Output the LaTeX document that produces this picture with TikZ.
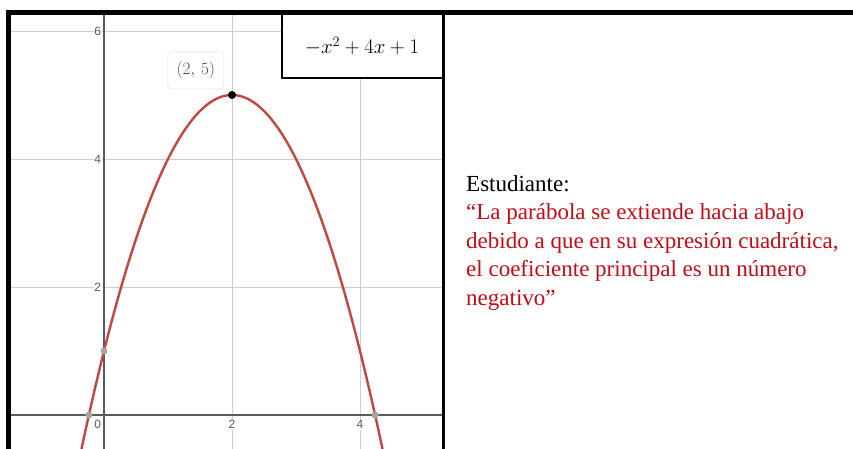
\documentclass[tikz,border=0pt]{standalone}
\usepackage{fontspec}
\setmainfont{Liberation Serif}
\newfontfamily\axisfont{Liberation Sans}
\usepackage{xcolor}
\usetikzlibrary{positioning}
\definecolor{curvered}{RGB}{199,68,64}
\definecolor{quotered}{RGB}{200,10,20}
\definecolor{gridgray}{RGB}{205,205,205}
\definecolor{axisgray}{RGB}{90,90,90}
\definecolor{ptgray}{RGB}{165,165,165}
\tikzset{
  frame/.style={black, line width=4.5pt},
  gridline/.style={gridgray, line width=0.9pt},
  axisline/.style={axisgray, line width=1.2pt},
  ticklabel/.style={font=\axisfont\fontsize{12}{12}\selectfont, text=black!65,
    fill=white, inner sep=0.8pt},
  curve/.style={curvered, line width=2.4pt},
  dotpt/.style={circle, fill=ptgray, inner sep=0pt, minimum size=7pt},
  vertex/.style={circle, fill=black, inner sep=0pt, minimum size=8pt},
  callout/.style={rectangle, rounded corners=3pt, draw=black!12, fill=white,
    minimum width=56pt, minimum height=37pt, font=\fontsize{17}{17}\selectfont, text=black!70},
  formula/.style={rectangle, draw=black, line width=2pt, fill=white,
    minimum width=161pt, minimum height=64pt, font=\fontsize{20.5}{24}\selectfont},
  said/.style={align=left, inner sep=0pt, font=\fontsize{23}{28.5}\selectfont},
}

\begin{document}
\begin{tikzpicture}[x=1pt, y=-1pt]
  \useasboundingbox (0,0) rectangle (853,449);
  % ── graph window (pixel frame, y downwards) ───────────────────────
  \begin{scope}
    \clip (10,15) rectangle (442,449);
    \begin{scope}[shift={(104,415)}, x=64pt, y=64pt]
      % grid every 2 units
      \foreach \gx in {2,4} \draw[gridline] (\gx,-0.6) -- (\gx,6.4);
      \foreach \gy in {2,4,6} \draw[gridline] (-1.6,\gy) -- (5.4,\gy);
      \draw[axisline] (-1.6,0) -- (5.4,0);
      \draw[axisline] (0,-0.6) -- (0,6.4);
      % tick labels
      \foreach \gy in {2,4,6}
        \node[ticklabel, left=2pt of {(0,\gy)}] (ly\gy) {\gy};
      \node[ticklabel, anchor=north east] (lx0) at (-0.03,-0.07) {0};
      \foreach \gx in {2,4}
        \node[ticklabel, anchor=north] (lx\gx) at (\gx,-0.07) {\gx};
      % the parabola -x^2+4x+1
      \draw[curve] plot[domain=-0.7:4.7, samples=120] (\x, {-\x*\x+4*\x+1});
      % marked points
      \node[dotpt] (rootl) at ({2-sqrt(5)},0) {};
      \node[dotpt] (rootr) at ({2+sqrt(5)},0) {};
      \node[dotpt] (yint) at (0,1) {};
      \node[vertex] (vtx) at (2,5) {};
      \node[callout, above left=3pt and 5pt of vtx] (vlabel) {$(2,\,5)$};
    \end{scope}
  \end{scope}
  % ── expression box and frame ──────────────────────────────────────
  \node[formula, anchor=north east] (expr) at (443.5,13) {$-x^2+4x+1$};
  \draw[frame] (6.5,12.5) -- (853,12.5);
  \draw[frame] (8.7,10.5) -- (8.7,449);
  \draw[frame, line width=2.6pt] (443.5,12.5) -- (443.5,449);
  % ── student's statement (base = last line) ────────────────────────
  \node[said, anchor=base west] (claim) at (466,305)
    {Estudiante:\\
     \textcolor{quotered}{“La parábola se extiende hacia abajo}\\
     \textcolor{quotered}{debido a que en su expresión cuadrática,}\\
     \textcolor{quotered}{el coeficiente principal es un número}\\
     \textcolor{quotered}{negativo”}};
\end{tikzpicture}
\end{document}
